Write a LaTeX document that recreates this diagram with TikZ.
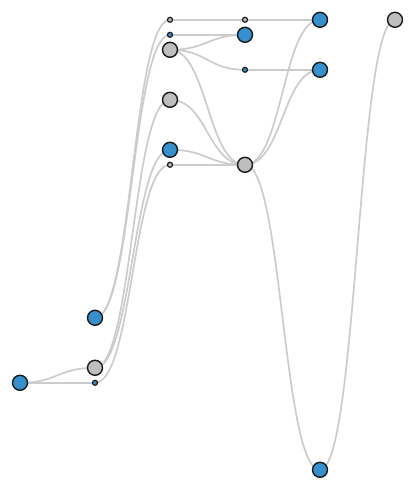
\documentclass[tikz,border=0pt]{standalone}
\usetikzlibrary{calc,backgrounds}
\definecolor{nodeblue}{RGB}{54,144,205}
\definecolor{nodegray}{RGB}{190,190,190}
\definecolor{linkgray}{RGB}{204,204,204}
\definecolor{rim}{RGB}{26,26,26}
\begin{document}
\begin{tikzpicture}[x=1pt,y=-1pt,
  vert/.style={circle,draw=rim,line width=1.4pt,inner sep=0pt},
  big/.style={vert,minimum size=15pt},
  small/.style={vert,minimum size=5pt,line width=1.2pt},
  blue/.style={fill=nodeblue},
  grey/.style={fill=nodegray},
  hlink/.style={draw=linkgray,line width=1.7pt,
    to path={let \p1=(\tikztostart), \p2=(\tikztotarget) in
      .. controls ({(\x1+\x2)/2},\y1) and ({(\x1+\x2)/2},\y2) .. (\tikztotarget)}}]
\useasboundingbox (0,-0.8) rectangle (415,489.2);

% vertices, one column per depth
\node[big,blue]   (a) at (20,382) {};
\node[big,blue]   (b) at (95,317) {};
\node[big,grey]   (c) at (95,367) {};
\node[small,blue] (d) at (95,382) {};
\node[small,grey] (e) at (170,19) {};
\node[small,blue] (f) at (170,34) {};
\node[big,grey]   (g) at (170,49) {};
\node[big,grey]   (h) at (170,99) {};
\node[big,blue]   (i) at (170,149) {};
\node[small,grey] (j) at (170,164) {};
\node[small,grey] (k) at (245,19) {};
\node[big,blue]   (l) at (245,34) {};
\node[small,blue] (m) at (245,69) {};
\node[big,grey]   (n) at (245,164) {};
\node[big,blue]   (o) at (320,19) {};
\node[big,blue]   (p) at (320,69) {};
\node[big,blue]   (q) at (320,469) {};
\node[big,grey]   (r) at (395,19) {};

% links, drawn behind the vertices
\begin{scope}[on background layer]
\foreach \s/\t in {a/c,a/d,b/e,b/f,c/h,c/i,d/j,e/k,k/o,f/l,g/l,g/m,g/n,
                   h/n,i/n,j/n,m/p,n/o,n/p,n/q,q/r}
  \draw[hlink] (\s.center) to (\t.center);
\end{scope}
\end{tikzpicture}
\end{document}
